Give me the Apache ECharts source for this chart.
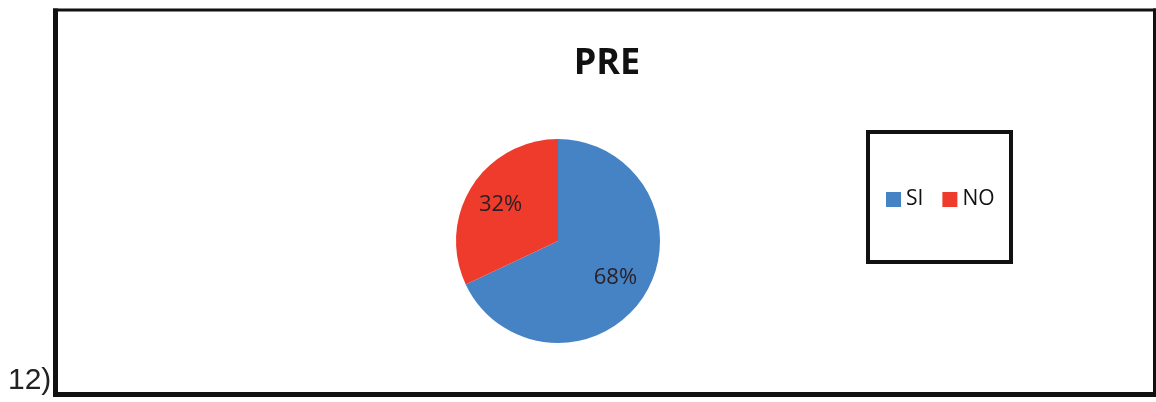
<!DOCTYPE html>
<html>
<head>
<meta charset="utf-8">
<script src="https://cdn.jsdelivr.net/npm/echarts@6/dist/echarts.min.js"></script>
<style>
html,body{margin:0;padding:0;background:#fff;}
#c{width:1156px;height:402px;}
</style>
</head>
<body>
<div id="c"></div>
<script>
var titleText = 'PRE';
var categories = ['SI', 'NO'];
var values = [68, 32];
var colors = ['#4683c4', '#ee3b2c'];
var pageNumber = '12)';

var chart = echarts.init(document.getElementById('c'), null, {renderer: 'canvas'});
var dataItems = categories.map(function (n, i) {
  return {name: n, value: values[i], itemStyle: {color: colors[i]}};
});
var labelItems = categories.map(function (n, i) {
  return {name: n, value: values[i], itemStyle: {color: 'rgba(0,0,0,0)'}};
});
chart.setOption({
  backgroundColor: '#ffffff',
  animation: false,
  title: {
    text: titleText,
    left: 602,
    textAlign: 'center',
    top: 41,
    textStyle: {fontFamily: 'Open Sans', fontWeight: 'bold', fontSize: 36, color: '#111'}
  },
  legend: {
    data: categories,
    left: 886,
    top: 189,
    padding: 0,
    itemWidth: 15,
    itemHeight: 15,
    itemGap: 19,
    icon: 'rect',
    textStyle: {fontFamily: 'Open Sans', fontSize: 21, color: '#111', padding: [0, 0, 0, 0]}
  },
  graphic: [
    {type: 'line', shape: {x1: 53, y1: 10, x2: 1156, y2: 10}, style: {stroke: '#111', lineWidth: 3}, z: 100},
    {type: 'line', shape: {x1: 55.5, y1: 8.5, x2: 55.5, y2: 397}, style: {stroke: '#111', lineWidth: 5}, z: 100},
    {type: 'line', shape: {x1: 53, y1: 394.5, x2: 1156, y2: 394.5}, style: {stroke: '#111', lineWidth: 5}, z: 100},
    {type: 'line', shape: {x1: 1154.5, y1: 8.5, x2: 1154.5, y2: 397}, style: {stroke: '#111', lineWidth: 3}, z: 100},
    {type: 'rect', shape: {x: 868, y: 132, width: 143, height: 130}, style: {fill: 'none', stroke: '#111', lineWidth: 4}, z: 100},
    {type: 'text', left: 8, top: 366, style: {text: pageNumber, font: '30px "Liberation Sans"', fill: '#222'}}
  ],
  series: [
    {
      type: 'pie',
      center: [558, 241],
      radius: 102,
      startAngle: 90,
      clockwise: true,
      label: {show: false},
      labelLine: {show: false},
      itemStyle: {borderWidth: 0},
      emphasis: {disabled: true},
      data: dataItems
    },
    {
      type: 'pie',
      center: [558, 241],
      radius: [28, 102],
      startAngle: 90,
      clockwise: true,
      silent: true,
      legendHoverLink: false,
      label: {show: true, position: 'inside', formatter: '{d}%', fontFamily: 'Open Sans', fontSize: 22, color: '#2a1f24'},
      labelLine: {show: false},
      itemStyle: {borderWidth: 0},
      emphasis: {disabled: true},
      data: labelItems
    }
  ]
});
</script>
</body>
</html>
